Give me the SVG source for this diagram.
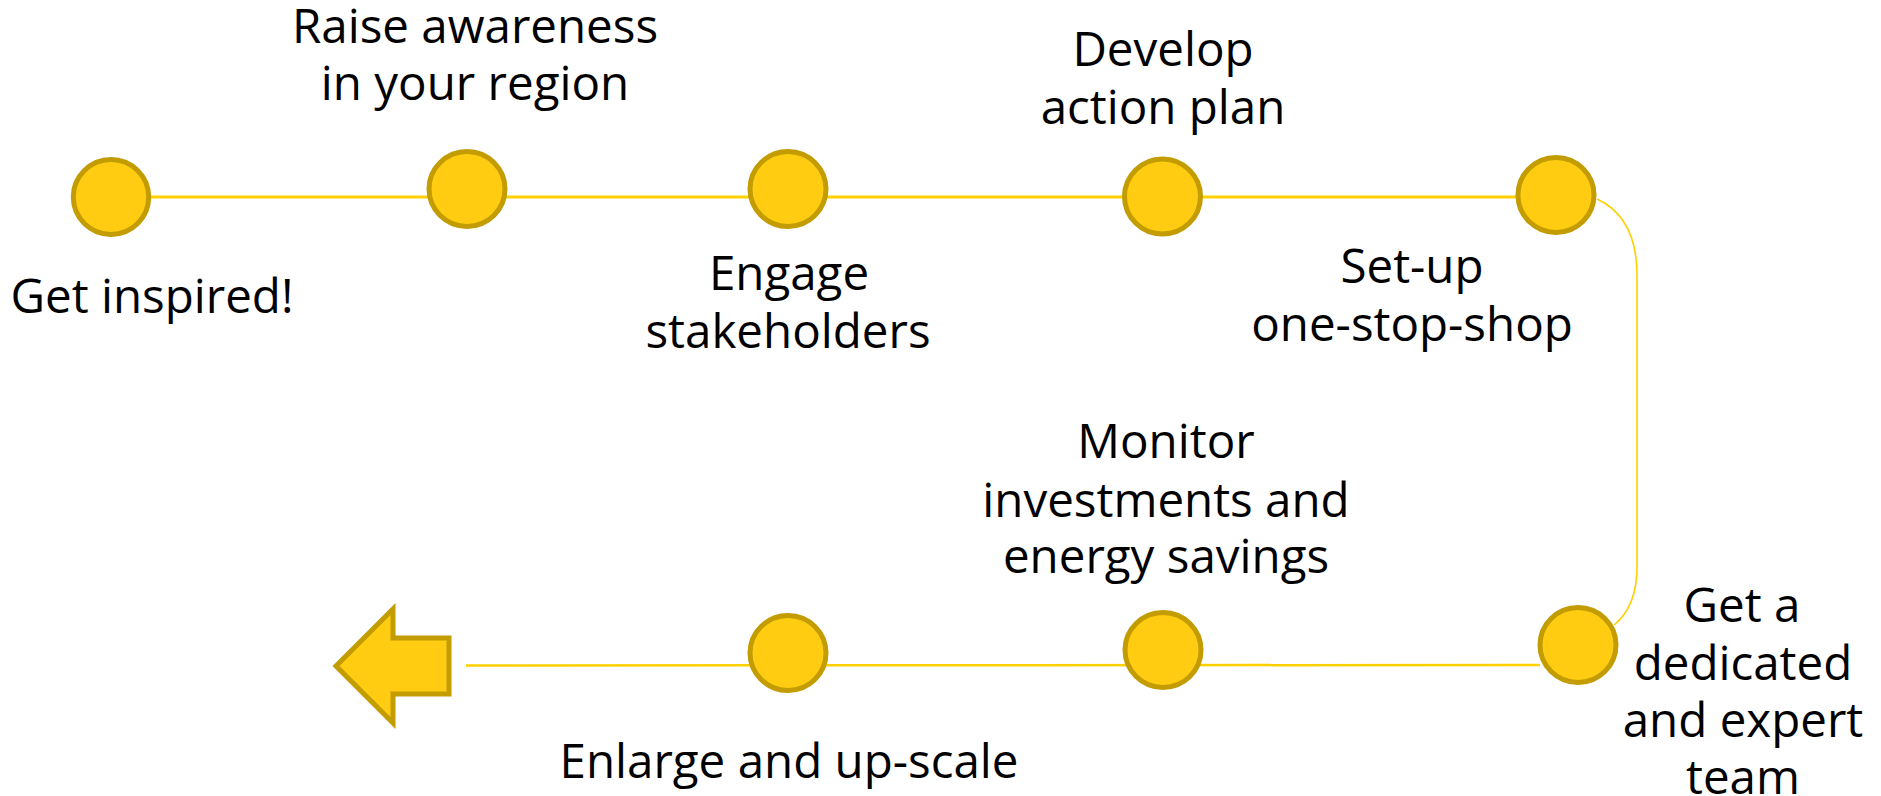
<svg xmlns="http://www.w3.org/2000/svg" width="1881" height="796" viewBox="0 0 1881 796">
<style>
.n{fill:#FFCC12;stroke:#C29C00;stroke-width:5}
.t{font-family:"Open Sans","Noto Sans",sans-serif;font-size:47.5px;fill:#000;text-anchor:middle}
.c{fill:none;stroke:#FFD000}
</style>
<rect width="1881" height="796" fill="#fff"/>
<g id="connectors">
<line class="c" x1="151" y1="197" x2="1520" y2="197" stroke-width="3"/>
<path class="c" d="M1597,199 C1625,212 1637,240 1637,275 L1637,567 C1637,592 1630,612 1614,625" stroke-width="1.6"/>
<line class="c" x1="1540" y1="665" x2="466" y2="665.5" stroke-width="2.5" stroke="#FFD53A"/>
</g>
<g id="n1"><ellipse class="n" cx="111" cy="197" rx="37.7" ry="37.5"/><text class="t" x="152" y="313">Get inspired!</text></g>
<g id="n2"><ellipse class="n" cx="467" cy="189" rx="38" ry="37.5"/><text class="t" x="475" y="43">Raise awareness</text><text class="t" x="475" y="100">in your region</text></g>
<g id="n3"><ellipse class="n" cx="788" cy="189" rx="38" ry="37.5"/><text class="t" x="789" y="290">Engage</text><text class="t" x="788" y="348">stakeholders</text></g>
<g id="n4"><ellipse class="n" cx="1162.5" cy="196.5" rx="38" ry="37.5"/><text class="t" x="1163" y="66">Develop</text><text class="t" x="1163" y="124">action plan</text></g>
<g id="n5"><ellipse class="n" cx="1556" cy="195" rx="38" ry="37.5"/><text class="t" x="1412" y="283">Set-up</text><text class="t" x="1412" y="341">one-stop-shop</text></g>
<g id="n6"><ellipse class="n" cx="1578" cy="645" rx="38" ry="37.5"/><text class="t" x="1742" y="622">Get a</text><text class="t" x="1743" y="680">dedicated</text><text class="t" x="1743" y="737">and expert</text><text class="t" x="1743" y="794">team</text></g>
<g id="n7"><ellipse class="n" cx="1163" cy="650" rx="38" ry="37.5"/><text class="t" x="1166" y="458">Monitor</text><text class="t" x="1166" y="517">investments and</text><text class="t" x="1166" y="573">energy savings</text></g>
<g id="n8"><ellipse class="n" cx="788" cy="653" rx="38" ry="37.5"/><text class="t" x="789" y="778">Enlarge and up-scale</text></g>
<g id="arrow"><polygon class="n" stroke-width="4" points="336,666 393,609 393,638 449,638 449,694 393,694 393,723"/></g>
</svg>
